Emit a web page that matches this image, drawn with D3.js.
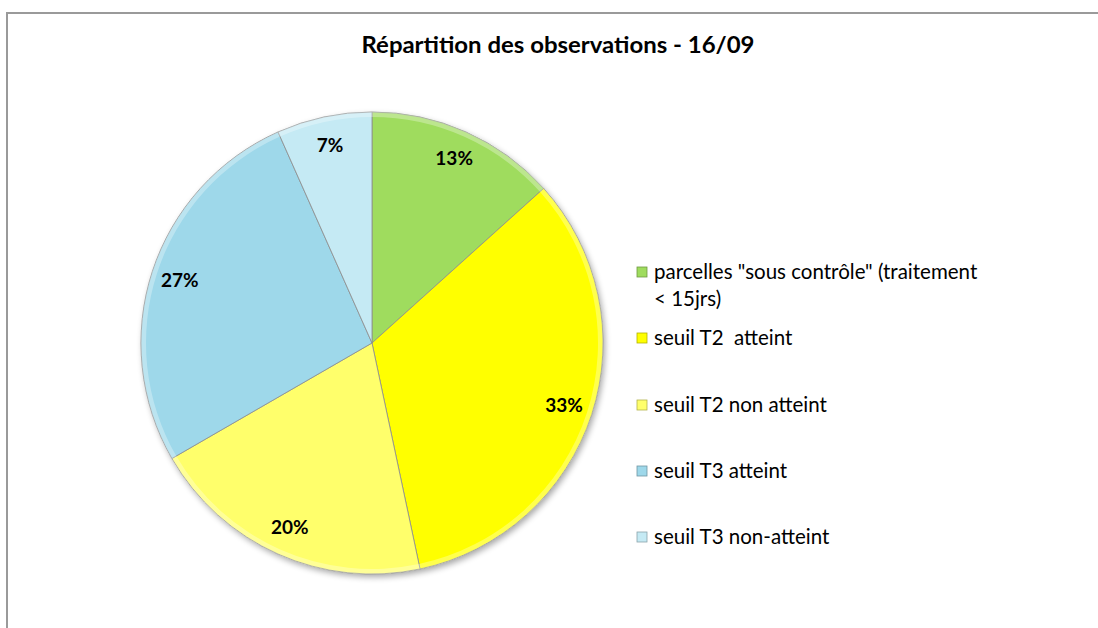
<!DOCTYPE html>
<html>
<head>
<meta charset="utf-8">
<script src="https://cdn.jsdelivr.net/npm/d3@7"></script>
<style>
  body { margin: 0; background: #fff; }
  svg { display: block; }
  text { font-family: Lato, "Open Sans", sans-serif; white-space: pre; }
</style>
</head>
<body>
<div id="chart"></div>
<script>
// slice data (number of observations)
var categories = [
  "parcelles \"sous contrôle\" (traitement|< 15jrs)",
  "seuil T2  atteint",
  "seuil T2 non atteint",
  "seuil T3 atteint",
  "seuil T3 non-atteint"
];
var counts = [2, 5, 3, 4, 1];
var colors = ["#9fdc5e", "#ffff00", "#ffff6b", "#9ed8ea", "#c5eaf4"];
var title = "Répartition des observations - 16/09";

var svgWidth = 1098;
var svgHeight = 628;

var svg = d3.select("#chart")
  .append("svg")
  .attr("width", svgWidth)
  .attr("height", svgHeight);

// chart frame (only top and left visible)
svg.append("rect")
  .attr("x", 7)
  .attr("y", 13)
  .attr("width", 1120)
  .attr("height", 640)
  .attr("fill", "none")
  .attr("stroke", "#9a9a9a")
  .attr("stroke-width", 2);

svg.append("text")
  .attr("x", 558)
  .attr("y", 53)
  .attr("text-anchor", "middle")
  .attr("font-size", 22.5)
  .attr("font-weight", "bold")
  .attr("fill", "#000")
  .attr("textLength", 393)
  .attr("lengthAdjust", "spacingAndGlyphs")
  .text(title);

// soft shadow
var defs = svg.append("defs");
var shadow = defs.append("filter").attr("id", "shadow")
  .attr("x", "-10%").attr("y", "-10%").attr("width", "120%").attr("height", "120%");
shadow.append("feGaussianBlur").attr("in", "SourceAlpha").attr("stdDeviation", 3);
shadow.append("feOffset").attr("dx", 2).attr("dy", 3).attr("result", "blur");
shadow.append("feComponentTransfer").append("feFuncA").attr("type", "linear").attr("slope", 0.35);
var merge = shadow.append("feMerge");
merge.append("feMergeNode");
merge.append("feMergeNode").attr("in", "SourceGraphic");

var cx = 372, cy = 343, radius = 231;

var pie = d3.pie().sort(null).value(d => d);
var arcs = pie(counts);
var total = d3.sum(counts);

var arc = d3.arc().innerRadius(0).outerRadius(radius);
var rimArc = d3.arc().innerRadius(radius - 5).outerRadius(radius);
var labelArc = d3.arc().innerRadius(202).outerRadius(202);

var pieGroup = svg.append("g")
  .attr("transform", `translate(${cx}, ${cy})`);

pieGroup.append("circle")
  .attr("r", radius)
  .attr("fill", "#fff")
  .attr("filter", "url(#shadow)");

pieGroup.selectAll(".slice")
  .data(arcs)
  .enter()
  .append("path")
  .attr("class", "slice")
  .attr("d", arc)
  .attr("fill", (d, i) => colors[i])
  .attr("stroke", "#8c8c8c")
  .attr("stroke-opacity", 0.8)
  .attr("stroke-width", 1);

// bevel highlight along the rim
pieGroup.selectAll(".rim")
  .data(arcs)
  .enter()
  .append("path")
  .attr("class", "rim")
  .attr("d", rimArc)
  .attr("fill", "#fff")
  .attr("fill-opacity", 0.3);

pieGroup.selectAll(".pct")
  .data(arcs)
  .enter()
  .append("text")
  .attr("class", "pct")
  .attr("transform", d => `translate(${labelArc.centroid(d)})`)
  .attr("text-anchor", "middle")
  .attr("dy", "0.35em")
  .attr("font-size", 19)
  .attr("font-weight", "bold")
  .text(d => Math.round(d.data / total * 100) + "%");

// legend
var legendY = [272, 338, 405, 471, 537];
var legend = svg.append("g");

categories.forEach(function(name, i) {
  legend.append("rect")
    .attr("x", 637)
    .attr("y", legendY[i] - 5)
    .attr("width", 10)
    .attr("height", 10)
    .attr("fill", colors[i])
    .attr("stroke", d3.color(colors[i]).darker(1))
    .attr("stroke-width", 0.8);

  var lines = name.split("|");
  var t = legend.append("text")
    .attr("x", 654)
    .attr("y", legendY[i])
    .attr("font-size", 20.5)
    .attr("fill", "#000");
  lines.forEach(function(line, j) {
    t.append("tspan")
      .attr("x", 654)
      .attr("dy", j === 0 ? "0.35em" : 27)
      .text(line);
  });
});
</script>
</body>
</html>
